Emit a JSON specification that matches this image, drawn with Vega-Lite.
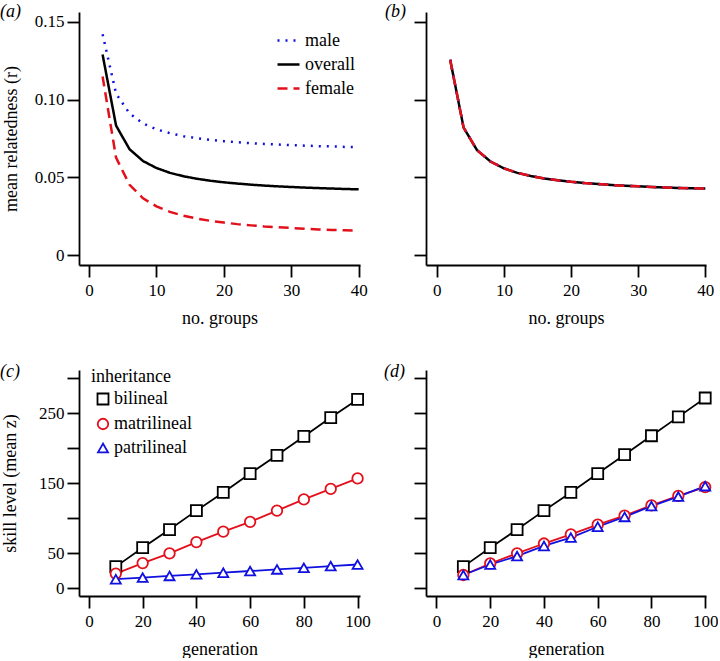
{
  "$schema": "https://vega.github.io/schema/vega-lite/v6.json",
  "padding": {"left": 0, "top": 3, "right": 0, "bottom": 0},
  "background": "white",
  "config": {
    "font": "Liberation Serif",
    "view": {"stroke": null},
    "style": {"guide-label": {"font": "Liberation Serif"}, "guide-title": {"font": "Liberation Serif"}, "group-title": {"font": "Liberation Serif"}},
    "axis": {"grid": false, "domainColor": "black", "domainWidth": 1.8, "tickColor": "black", "tickWidth": 1.8, "tickSize": 12, "labelFont": "Liberation Serif", "labelFontSize": 17, "labelColor": "black", "labelPadding": 3, "titleFont": "Liberation Serif", "titleFontSize": 18, "titleFontWeight": "normal", "titleColor": "black", "labelOverlap": false, "labelFlush": false},
    "axisX": {"labelPadding": 5, "titlePadding": 11},
    "legend": {"labelFont": "Liberation Serif", "labelFontSize": 18, "labelColor": "black", "titleFont": "Liberation Serif", "titleFontSize": 18, "titleFontWeight": "normal", "titleColor": "black"},
    "title": {"font": "Liberation Serif", "fontSize": 18, "fontWeight": "normal", "fontStyle": "italic", "color": "black", "anchor": "start", "frame": "group", "offset": -9, "baseline": "middle"}
  },
  "columns": 2,
  "spacing": {"row": 105, "column": 66},
  "bounds": "flush",
  "resolve": {"scale": {"color": "independent", "strokeDash": "independent", "shape": "independent", "size": "independent"}, "legend": {"color": "independent", "strokeDash": "independent", "shape": "independent", "size": "independent"}},
  "datasets": {
    "a": [
      {"n": 2, "r": 0.1421, "sex": "male"}, {"n": 4, "r": 0.1039, "sex": "male"}, {"n": 6, "r": 0.0911, "sex": "male"}, {"n": 8, "r": 0.0847, "sex": "male"}, {"n": 10, "r": 0.0809, "sex": "male"}, {"n": 12, "r": 0.0784, "sex": "male"}, {"n": 14, "r": 0.0765, "sex": "male"}, {"n": 16, "r": 0.0752, "sex": "male"}, {"n": 18, "r": 0.0741, "sex": "male"}, {"n": 20, "r": 0.0733, "sex": "male"}, {"n": 22, "r": 0.0726, "sex": "male"}, {"n": 24, "r": 0.0720, "sex": "male"}, {"n": 26, "r": 0.0715, "sex": "male"}, {"n": 28, "r": 0.0711, "sex": "male"}, {"n": 30, "r": 0.0707, "sex": "male"}, {"n": 32, "r": 0.0704, "sex": "male"}, {"n": 34, "r": 0.0701, "sex": "male"}, {"n": 36, "r": 0.0699, "sex": "male"}, {"n": 38, "r": 0.0696, "sex": "male"}, {"n": 40, "r": 0.0694, "sex": "male"},
      {"n": 2, "r": 0.1290, "sex": "overall"}, {"n": 4, "r": 0.0833, "sex": "overall"}, {"n": 6, "r": 0.0681, "sex": "overall"}, {"n": 8, "r": 0.0605, "sex": "overall"}, {"n": 10, "r": 0.0560, "sex": "overall"}, {"n": 12, "r": 0.0529, "sex": "overall"}, {"n": 14, "r": 0.0507, "sex": "overall"}, {"n": 16, "r": 0.0491, "sex": "overall"}, {"n": 18, "r": 0.0478, "sex": "overall"}, {"n": 20, "r": 0.0468, "sex": "overall"}, {"n": 22, "r": 0.0460, "sex": "overall"}, {"n": 24, "r": 0.0453, "sex": "overall"}, {"n": 26, "r": 0.0447, "sex": "overall"}, {"n": 28, "r": 0.0442, "sex": "overall"}, {"n": 30, "r": 0.0438, "sex": "overall"}, {"n": 32, "r": 0.0434, "sex": "overall"}, {"n": 34, "r": 0.0431, "sex": "overall"}, {"n": 36, "r": 0.0428, "sex": "overall"}, {"n": 38, "r": 0.0425, "sex": "overall"}, {"n": 40, "r": 0.0423, "sex": "overall"},
      {"n": 2, "r": 0.1149, "sex": "female"}, {"n": 4, "r": 0.0627, "sex": "female"}, {"n": 6, "r": 0.0452, "sex": "female"}, {"n": 8, "r": 0.0365, "sex": "female"}, {"n": 10, "r": 0.0313, "sex": "female"}, {"n": 12, "r": 0.0278, "sex": "female"}, {"n": 14, "r": 0.0253, "sex": "female"}, {"n": 16, "r": 0.0235, "sex": "female"}, {"n": 18, "r": 0.0220, "sex": "female"}, {"n": 20, "r": 0.0209, "sex": "female"}, {"n": 22, "r": 0.0199, "sex": "female"}, {"n": 24, "r": 0.0191, "sex": "female"}, {"n": 26, "r": 0.0184, "sex": "female"}, {"n": 28, "r": 0.0179, "sex": "female"}, {"n": 30, "r": 0.0174, "sex": "female"}, {"n": 32, "r": 0.0169, "sex": "female"}, {"n": 34, "r": 0.0165, "sex": "female"}, {"n": 36, "r": 0.0162, "sex": "female"}, {"n": 38, "r": 0.0159, "sex": "female"}, {"n": 40, "r": 0.0156, "sex": "female"}
    ],
    "b": [
      {"n": 2, "r": 0.1256}, {"n": 4, "r": 0.0820}, {"n": 6, "r": 0.0675}, {"n": 8, "r": 0.0602}, {"n": 10, "r": 0.0558}, {"n": 12, "r": 0.0529}, {"n": 14, "r": 0.0509}, {"n": 16, "r": 0.0493}, {"n": 18, "r": 0.0481}, {"n": 20, "r": 0.0471}, {"n": 22, "r": 0.0463}, {"n": 24, "r": 0.0457}, {"n": 26, "r": 0.0451}, {"n": 28, "r": 0.0446}, {"n": 30, "r": 0.0442}, {"n": 32, "r": 0.0438}, {"n": 34, "r": 0.0435}, {"n": 36, "r": 0.0432}, {"n": 38, "r": 0.0430}, {"n": 40, "r": 0.0428}
    ],
    "c": [
      {"gen": 10, "z": 31, "inheritance": "bilineal"}, {"gen": 20, "z": 58, "inheritance": "bilineal"}, {"gen": 30, "z": 84, "inheritance": "bilineal"}, {"gen": 40, "z": 111, "inheritance": "bilineal"}, {"gen": 50, "z": 137, "inheritance": "bilineal"}, {"gen": 60, "z": 164, "inheritance": "bilineal"}, {"gen": 70, "z": 190, "inheritance": "bilineal"}, {"gen": 80, "z": 217, "inheritance": "bilineal"}, {"gen": 90, "z": 244, "inheritance": "bilineal"}, {"gen": 100, "z": 270, "inheritance": "bilineal"},
      {"gen": 10, "z": 21, "inheritance": "matrilineal"}, {"gen": 20, "z": 36, "inheritance": "matrilineal"}, {"gen": 30, "z": 50, "inheritance": "matrilineal"}, {"gen": 40, "z": 66, "inheritance": "matrilineal"}, {"gen": 50, "z": 81, "inheritance": "matrilineal"}, {"gen": 60, "z": 95, "inheritance": "matrilineal"}, {"gen": 70, "z": 111, "inheritance": "matrilineal"}, {"gen": 80, "z": 127, "inheritance": "matrilineal"}, {"gen": 90, "z": 142, "inheritance": "matrilineal"}, {"gen": 100, "z": 157, "inheritance": "matrilineal"},
      {"gen": 10, "z": 13, "inheritance": "patrilineal"}, {"gen": 20, "z": 15.3, "inheritance": "patrilineal"}, {"gen": 30, "z": 17.7, "inheritance": "patrilineal"}, {"gen": 40, "z": 20, "inheritance": "patrilineal"}, {"gen": 50, "z": 22.3, "inheritance": "patrilineal"}, {"gen": 60, "z": 24.7, "inheritance": "patrilineal"}, {"gen": 70, "z": 27, "inheritance": "patrilineal"}, {"gen": 80, "z": 29.3, "inheritance": "patrilineal"}, {"gen": 90, "z": 31.7, "inheritance": "patrilineal"}, {"gen": 100, "z": 34, "inheritance": "patrilineal"}
    ],
    "d": [
      {"gen": 10, "z": 31, "inheritance": "bilineal"}, {"gen": 20, "z": 58, "inheritance": "bilineal"}, {"gen": 30, "z": 84, "inheritance": "bilineal"}, {"gen": 40, "z": 111, "inheritance": "bilineal"}, {"gen": 50, "z": 137, "inheritance": "bilineal"}, {"gen": 60, "z": 164, "inheritance": "bilineal"}, {"gen": 70, "z": 191, "inheritance": "bilineal"}, {"gen": 80, "z": 218, "inheritance": "bilineal"}, {"gen": 90, "z": 245, "inheritance": "bilineal"}, {"gen": 100, "z": 272, "inheritance": "bilineal"},
      {"gen": 10, "z": 19, "inheritance": "matrilineal"}, {"gen": 20, "z": 35.5, "inheritance": "matrilineal"}, {"gen": 30, "z": 50, "inheritance": "matrilineal"}, {"gen": 40, "z": 64, "inheritance": "matrilineal"}, {"gen": 50, "z": 77, "inheritance": "matrilineal"}, {"gen": 60, "z": 91, "inheritance": "matrilineal"}, {"gen": 70, "z": 104, "inheritance": "matrilineal"}, {"gen": 80, "z": 118.5, "inheritance": "matrilineal"}, {"gen": 90, "z": 132, "inheritance": "matrilineal"}, {"gen": 100, "z": 144.5, "inheritance": "matrilineal"},
      {"gen": 10, "z": 19, "inheritance": "patrilineal"}, {"gen": 20, "z": 34, "inheritance": "patrilineal"}, {"gen": 30, "z": 46, "inheritance": "patrilineal"}, {"gen": 40, "z": 60.5, "inheritance": "patrilineal"}, {"gen": 50, "z": 72.5, "inheritance": "patrilineal"}, {"gen": 60, "z": 88, "inheritance": "patrilineal"}, {"gen": 70, "z": 102, "inheritance": "patrilineal"}, {"gen": 80, "z": 117.5, "inheritance": "patrilineal"}, {"gen": 90, "z": 131, "inheritance": "patrilineal"}, {"gen": 100, "z": 146, "inheritance": "patrilineal"}
    ]
  },
  "concat": [
    {
      "width": 281, "height": 253,
      "title": {"text": "(a)", "dx": -79},
      "data": {"name": "a"},
      "mark": {"type": "line", "strokeWidth": 2.5},
      "encoding": {
        "x": {"field": "n", "type": "quantitative", "scale": {"domain": [-1.5, 40.2], "nice": false, "zero": false}, "axis": {"values": [0, 10, 20, 30, 40], "title": "no. groups"}},
        "y": {"field": "r", "type": "quantitative", "scale": {"domain": [-0.0064, 0.1564], "nice": false, "zero": false}, "axis": {"values": [0, 0.05, 0.1, 0.15], "labelExpr": "datum.value == 0 ? '0' : format(datum.value, '.2f')", "title": "mean relatedness (r)", "titlePadding": 14}},
        "color": {"field": "sex", "type": "nominal", "scale": {"domain": ["male", "overall", "female"], "range": ["#1010e0", "black", "#e3101b"]}, "legend": {"title": null, "orient": "none", "legendX": 197, "legendY": 16, "symbolType": "stroke", "symbolSize": 484, "symbolStrokeWidth": 2.5, "labelOffset": 4, "rowPadding": 2}},
        "strokeDash": {"field": "sex", "type": "nominal", "scale": {"domain": ["male", "overall", "female"], "range": [[2, 6], [1, 0], [10, 6]]}, "legend": {"title": null, "orient": "none", "legendX": 197, "legendY": 16, "symbolType": "stroke", "symbolSize": 484, "symbolStrokeWidth": 2.5, "labelOffset": 4, "rowPadding": 2}}
      }
    },
    {
      "width": 280, "height": 253,
      "title": {"text": "(b)", "dx": -41},
      "data": {"name": "b"},
      "encoding": {
        "x": {"field": "n", "type": "quantitative", "scale": {"domain": [-1.6, 40.1], "nice": false, "zero": false}, "axis": {"values": [0, 10, 20, 30, 40], "title": "no. groups"}},
        "y": {"field": "r", "type": "quantitative", "scale": {"domain": [-0.0064, 0.1564], "nice": false, "zero": false}, "axis": {"values": [0, 0.05, 0.1, 0.15], "labels": false, "title": null}}
      },
      "layer": [
        {"mark": {"type": "line", "color": "black", "strokeWidth": 2.5}, "encoding": {}},
        {"mark": {"type": "line", "color": "#1010e0", "strokeWidth": 2.5, "strokeDash": [2, 6]}, "encoding": {}},
        {"mark": {"type": "line", "color": "#e3101b", "strokeWidth": 2.5, "strokeDash": [10, 6]}, "encoding": {}}
      ]
    },
    {
      "width": 281, "height": 226,
      "title": {"text": "(c)", "dx": -79, "offset": -13},
      "data": {"name": "c"},
      "encoding": {
        "x": {"field": "gen", "type": "quantitative", "scale": {"domain": [-3.7, 100.9], "nice": false, "zero": false}, "axis": {"values": [0, 20, 40, 60, 80, 100], "title": "generation"}},
        "y": {"field": "z", "type": "quantitative", "scale": {"domain": [-11, 312], "nice": false, "zero": false}, "axis": {"values": [0, 50, 100, 150, 200, 250, 300], "labelExpr": "(datum.value == 0 || datum.value == 50 || datum.value == 150 || datum.value == 250) ? datum.label : ''", "title": "skill level (mean z)", "titlePadding": 19}}
      },
      "layer": [
        {"transform": [{"filter": {"field": "inheritance", "equal": "bilineal"}}], "mark": {"type": "line", "strokeWidth": 1.8, "color": "black"}, "encoding": {}},
        {"transform": [{"filter": {"field": "inheritance", "equal": "matrilineal"}}], "mark": {"type": "line", "strokeWidth": 1.8, "color": "#e3101b"}, "encoding": {}},
        {"transform": [{"filter": {"field": "inheritance", "equal": "patrilineal"}}], "mark": {"type": "line", "strokeWidth": 1.8, "color": "#1010e0"}, "encoding": {}},
        {"mark": {"type": "point", "filled": false, "fill": "white", "fillOpacity": 1, "strokeWidth": 1.8, "opacity": 1}, "encoding": {
          "color": {"field": "inheritance", "type": "nominal", "scale": {"domain": ["bilineal", "matrilineal", "patrilineal"], "range": ["black", "#e3101b", "#1010e0"]}, "legend": {"title": "inheritance", "orient": "none", "legendX": 12, "legendY": -2, "symbolOffset": 3, "labelOffset": 2, "rowPadding": 6, "titlePadding": 4, "symbolStrokeWidth": 1.8}},
          "shape": {"field": "inheritance", "type": "nominal", "scale": {"domain": ["bilineal", "matrilineal", "patrilineal"], "range": ["square", "circle", "triangle-up"]}, "legend": {"title": "inheritance", "orient": "none", "legendX": 12, "legendY": -2, "symbolOffset": 3, "labelOffset": 2, "rowPadding": 6, "titlePadding": 4, "symbolStrokeWidth": 1.8}},
          "size": {"field": "inheritance", "type": "ordinal", "scale": {"domain": ["bilineal", "matrilineal", "patrilineal"], "range": [121, 100, 169]}, "legend": {"title": "inheritance", "orient": "none", "legendX": 12, "legendY": -2, "symbolOffset": 3, "labelOffset": 2, "rowPadding": 6, "titlePadding": 4, "symbolStrokeWidth": 1.8}}
        }}
      ]
    },
    {
      "width": 280, "height": 226,
      "title": {"text": "(d)", "dx": -42, "offset": -11},
      "data": {"name": "d"},
      "encoding": {
        "x": {"field": "gen", "type": "quantitative", "scale": {"domain": [-3.9, 100.3], "nice": false, "zero": false}, "axis": {"values": [0, 20, 40, 60, 80, 100], "title": "generation"}},
        "y": {"field": "z", "type": "quantitative", "scale": {"domain": [-11, 312], "nice": false, "zero": false}, "axis": {"values": [0, 50, 100, 150, 200, 250, 300], "labels": false, "title": null}}
      },
      "layer": [
        {"transform": [{"filter": {"field": "inheritance", "equal": "bilineal"}}], "mark": {"type": "line", "strokeWidth": 1.8, "color": "black"}, "encoding": {}},
        {"transform": [{"filter": {"field": "inheritance", "equal": "matrilineal"}}], "mark": {"type": "line", "strokeWidth": 1.8, "color": "#e3101b"}, "encoding": {}},
        {"transform": [{"filter": {"field": "inheritance", "equal": "patrilineal"}}], "mark": {"type": "line", "strokeWidth": 1.8, "color": "#1010e0"}, "encoding": {}},
        {"mark": {"type": "point", "filled": false, "fill": "white", "fillOpacity": 1, "strokeWidth": 1.8, "opacity": 1}, "encoding": {
          "color": {"field": "inheritance", "type": "nominal", "scale": {"domain": ["bilineal", "matrilineal", "patrilineal"], "range": ["black", "#e3101b", "#1010e0"]}, "legend": null},
          "shape": {"field": "inheritance", "type": "nominal", "scale": {"domain": ["bilineal", "matrilineal", "patrilineal"], "range": ["square", "circle", "triangle-up"]}, "legend": null},
          "size": {"field": "inheritance", "type": "ordinal", "scale": {"domain": ["bilineal", "matrilineal", "patrilineal"], "range": [121, 100, 169]}, "legend": null}
        }}
      ]
    }
  ]
}
